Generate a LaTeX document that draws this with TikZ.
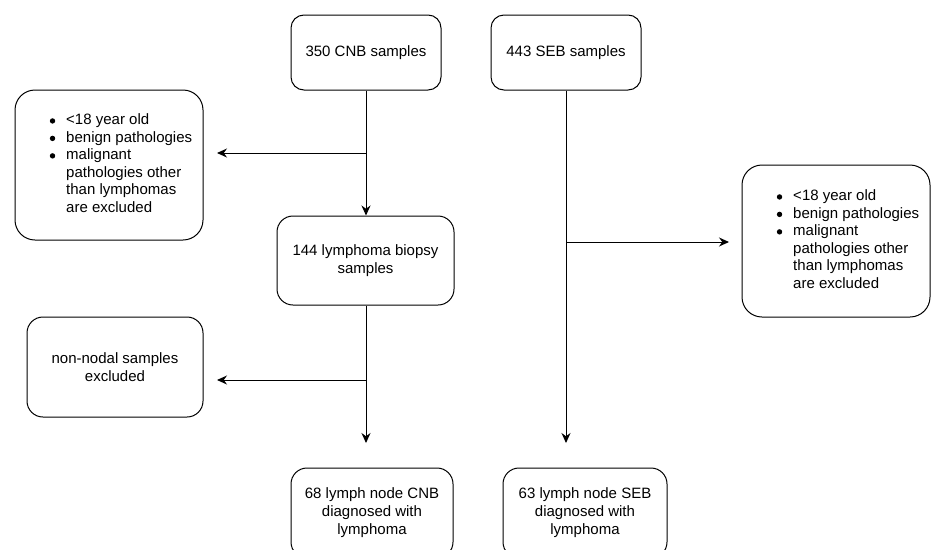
\documentclass[tikz,border=0pt]{standalone}
\usepackage{fontspec}
\setmainfont{Liberation Sans}
\usetikzlibrary{arrows.meta}

\newcommand{\listdot}{\raisebox{1.2pt}{\tikz\fill (0,0) circle (2.7pt);}}

\begin{document}
\begin{tikzpicture}[x=1pt, y=-1pt, font=\fontsize{15}{18}\selectfont,
    box/.style={draw, line width=1pt, rounded corners=13pt, align=center, inner sep=0pt},
    bigbox/.style={box, rounded corners=20pt},
    flow/.style={line width=1pt, -{Stealth[length=10pt, width=9pt]}}]
    \useasboundingbox (0,0) rectangle (933,549);

    % Define the boxes with specific positions
    \node[box, minimum width=150pt, minimum height=75pt] (cnb) at (366, 52.5) {350 CNB samples};
    \node[box, minimum width=150pt, minimum height=75pt] (seb) at (566, 52.5) {443 SEB samples};

    \node[bigbox, minimum width=188pt, minimum height=150pt] (excl1) at (109, 165)
        {\hspace*{24pt}\renewcommand{\arraystretch}{0.97}%
         \begin{tabular}{@{}c@{\hspace{11pt}}l@{}}
         \listdot & <18 year old\\
         \listdot & benign pathologies\\
         \listdot & malignant\\
                  & pathologies other\\
                  & than lymphomas\\
                  & are excluded
         \end{tabular}};
    \node[bigbox, minimum width=188pt, minimum height=152pt] (excl2) at (836, 241)
        {\hspace*{24pt}\renewcommand{\arraystretch}{0.97}%
         \begin{tabular}{@{}c@{\hspace{11pt}}l@{}}
         \listdot & <18 year old\\
         \listdot & benign pathologies\\
         \listdot & malignant\\
                  & pathologies other\\
                  & than lymphomas\\
                  & are excluded
         \end{tabular}};

    \node[box, rounded corners=16pt, minimum width=177pt, minimum height=89pt] (lym) at (365.5, 260.5)
        {144 lymphoma biopsy\\samples};
    \node[box, rounded corners=16pt, minimum width=176pt, minimum height=100pt] (excl3) at (115, 367)
        {non-nodal samples\\excluded};

    \node[box, rounded corners=16pt, minimum width=162pt, minimum height=90pt] (cnbres) at (372, 513)
        {68 lymph node CNB\\diagnosed with\\lymphoma};
    \node[box, rounded corners=16pt, minimum width=164pt, minimum height=90pt] (sebres) at (585, 513)
        {63 lymph node SEB\\diagnosed with\\lymphoma};

    % Branch points and free arrow ends
    \coordinate (b1) at (366, 153);
    \coordinate (e1) at (217, 153);
    \coordinate (b2) at (566, 242);
    \coordinate (e2) at (729, 242);
    \coordinate (b3) at (366, 380);
    \coordinate (e3) at (217, 380);
    \coordinate (d1) at (366, 443);
    \coordinate (d2) at (566, 443);

    % Draw the connectors
    \draw[flow] (cnb.south) -- (lym.north -| cnb.south);
    \draw[flow] (b1) -- (e1);
    \draw[flow] (seb.south) -- (d2);
    \draw[flow] (b2) -- (e2);
    \draw[flow] (lym.south -| d1) -- (d1);
    \draw[flow] (b3) -- (e3);
\end{tikzpicture}
\end{document}
